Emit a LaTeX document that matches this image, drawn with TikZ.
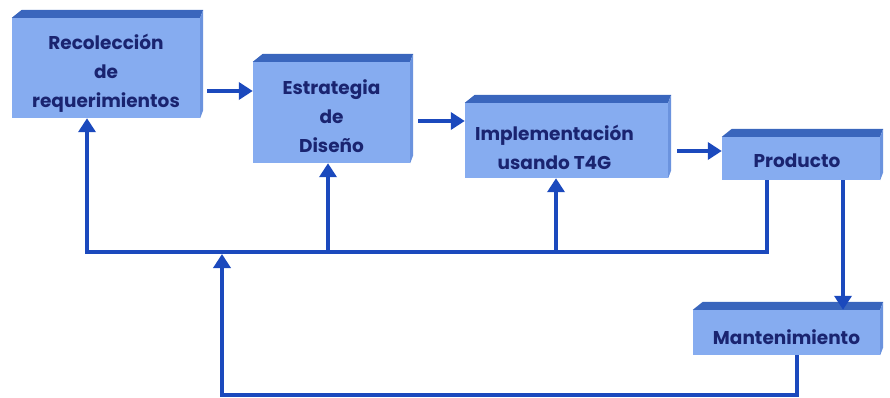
\documentclass[tikz,border=0pt]{standalone}
\usepackage{fontspec}
\setmainfont{Poppins}
\usetikzlibrary{calc,arrows.meta}

\definecolor{facefront}{HTML}{86ACF0}
\definecolor{facetop}{HTML}{3A66BD}
\definecolor{faceside}{HTML}{6B93DE}
\definecolor{linkblue}{HTML}{1B49BD}
\definecolor{labelnavy}{HTML}{1A2470}

% top and right faces of a block, drawn behind its front face
\newcommand\blockfaces[1]{%
  \fill[facetop] (#1.north west) -- ++(10,-8) -- ($(#1.north east)+(3,-8)$) -- (#1.north east) -- cycle;
  \fill[faceside] (#1.north east) -- ++(3,-8) -- ($(#1.south east)+(3,-8)$) -- (#1.south east) -- cycle;
}

\begin{document}
\begin{tikzpicture}[x=1pt,y=-1pt,
  stage/.style={fill=facefront, inner sep=0pt},
  caption/.style={align=center, inner sep=0pt, text=labelnavy,
    font=\bfseries\fontsize{18.5}{29}\selectfont},
  link/.style={draw=linkblue, line width=4pt, line join=miter},
  arr/.style={link, -{Triangle[length=14pt,width=17pt]}}]
\useasboundingbox (0,0) rectangle (890,398);

% process blocks
\node[stage, minimum width=188pt, minimum height=100pt] (b1) at (106,68) {};
\node[stage, minimum width=157pt, minimum height=101pt] (b2) at (331.5,112.5) {};
\node[stage, minimum width=203pt, minimum height=75pt] (b3) at (566.5,140.5) {};
\node[stage, minimum width=158pt, minimum height=43pt] (b4) at (801,158.5) {};
\node[stage, minimum width=187pt, minimum height=45pt] (b5) at (786.5,332.5) {};
\foreach \b in {b1,b2,b3,b4,b5} {\blockfaces{\b}}

% block captions
\node[caption] (t1) at ($(b1)+(0,5)$) {Recolección\\de\\requerimientos};
\node[caption] (t2) at ($(b2)+(0,4)$) {Estrategia\\de\\Diseño};
\node[caption] (t3) at ($(b3)+(-12,7)$) {Implementación\\usando T4G};
\node[caption] (t4) at ($(b4)+(-4,2)$) {Producto};
\node[caption] (t5) at ($(b5)+(0,5)$) {Mantenimiento};

% forward flow
\coordinate (s12) at ($(b1.east)+(7,23)$);
\draw[arr] (s12) -- (s12 -| b2.west);
\coordinate (s23) at ($(b2.east)+(8,8.5)$);
\draw[arr] (s23) -- (s23 -| b3.west);
\coordinate (s34) at ($(b3.east)+(9,10.5)$);
\draw[arr] (s34) -- (s34 -| b4.west);

% feedback bus
\coordinate (busR) at (767,252);
\coordinate (busL) at (87,252);
\coordinate (j2) at (328,252);
\coordinate (j3) at (556,252);
\draw[arr] (b4.south -| busR) -- (busR) -- (busL) -- (busL |- b1.south);
\draw[arr] (j2) -- (j2 |- b2.south);
\draw[arr] (j3) -- (j3 |- b3.south);

% maintenance path
\coordinate (pm) at (843,0);
\draw[arr] (b4.south -| pm) -- (b5.north -| pm);
\coordinate (lowR) at (797,395);
\coordinate (lowL) at (222,395);
\coordinate (busIn) at (222,254);
\draw[arr] (b5.south -| lowR) -- (lowR) -- (lowL) -- (busIn);
\end{tikzpicture}
\end{document}
